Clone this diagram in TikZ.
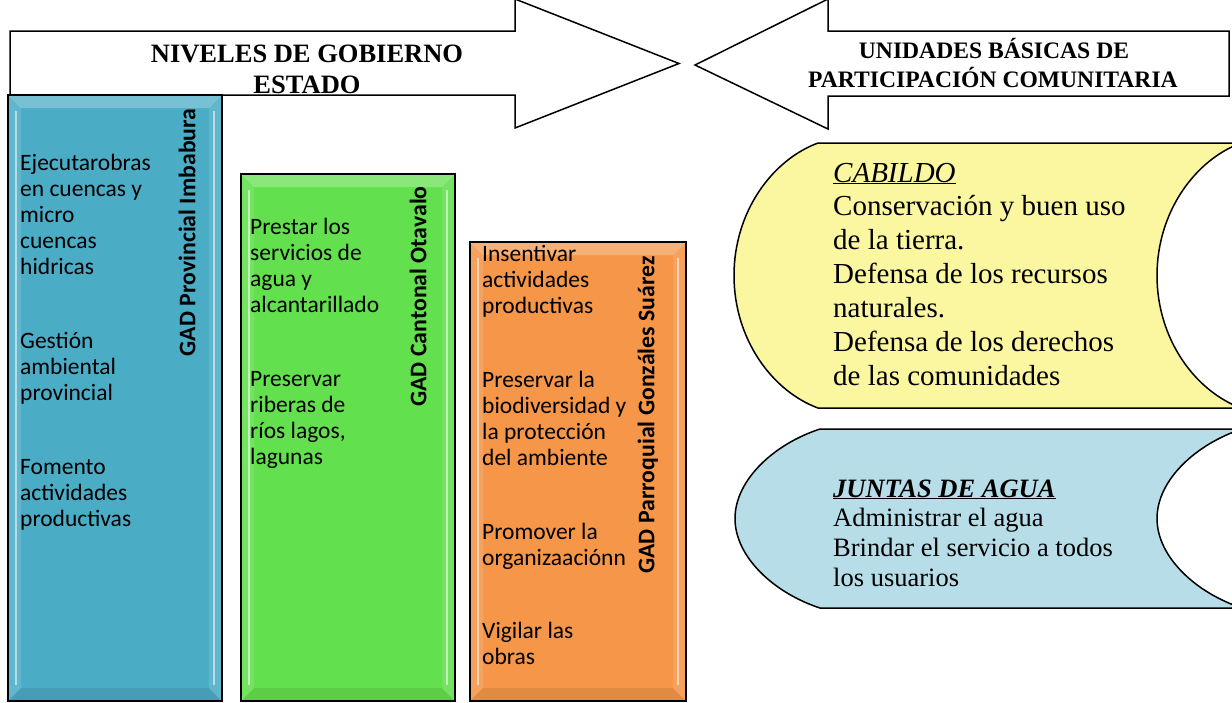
\documentclass[tikz,border=0pt]{standalone}
\usepackage{fontspec}
\setmainfont{Liberation Serif}
\newfontfamily\calib{Carlito}
\definecolor{colblue}{RGB}{75,172,198}
\definecolor{colgreen}{RGB}{99,224,77}
\definecolor{colorange}{RGB}{245,150,72}
\definecolor{cabyellow}{RGB}{251,247,160}
\definecolor{juntblue}{RGB}{183,222,232}
\tikzset{
  bigarrow/.style={draw=black, line width=1.5pt, fill=white, line join=miter},
  hdrL/.style={font=\bfseries\fontsize{26.5}{30}\selectfont, anchor=base, inner sep=0},
  hdrR/.style={font=\bfseries\fontsize{23.6}{28}\selectfont, anchor=base, inner sep=0},
  coltxt/.style={anchor=base west, inner sep=0, font=\calib\fontsize{23.5}{26.2}\selectfont},
  vlabel/.style={rotate=90, inner sep=0, font=\calib\bfseries\fontsize{23.8}{26}\selectfont},
  scrollshape/.style={draw=black, line width=1.5pt},
  cabtxt/.style={anchor=base west, inner sep=0, font=\fontsize{29}{33.9}\selectfont},
  junttxt/.style={anchor=base west, inner sep=0, font=\fontsize{26.5}{29.7}\selectfont},
}
\newcommand\coltext[4]{%
  \node[coltxt] (#1) at (#2,#3) {\begin{tabular}[t]{@{}l@{}}#4\end{tabular}};}
\newcommand\bevcol[5]{%
  \fill[#5] (#1,#2) rectangle (#3,#4);
  \fill[white, opacity=0.25] (#1,#2) -- (#3,#2) -- (#3-13,#2+13) -- (#1+13,#2+13) -- cycle;
  \fill[white, opacity=0.12] (#1,#2) -- (#1+13,#2+13) -- (#1+13,#4-13) -- (#1,#4) -- cycle;
  \fill[white, opacity=0.12] (#3,#2) -- (#3-13,#2+13) -- (#3-13,#4-13) -- (#3,#4) -- cycle;
  \fill[black, opacity=0.08] (#1,#4) -- (#1+13,#4-13) -- (#3-13,#4-13) -- (#3,#4) -- cycle;
  \draw[white, opacity=0.55, line width=2.5pt] (#1+8,#2+16) -- (#1+8,#4-16);
  \draw[white, opacity=0.55, line width=2.5pt] (#3-8,#2+16) -- (#3-8,#4-16);
  \draw[black, line width=1.3pt] (#1,#2) rectangle (#3,#4);}
\begin{document}
\begin{tikzpicture}[x=1pt,y=-1pt]
\useasboundingbox (0,0) rectangle (1232,702);
\clip (0,0) rectangle (1232,702);
\fill[white] (0,0) rectangle (1232,702);

% top arrows
\draw[bigarrow] (10,31) -- (515,31) -- (515,-1) -- (679,63.5) -- (515,128) -- (515,95) -- (10,95) -- cycle;
\draw[bigarrow] (1229,31) -- (828,31) -- (828,-1) -- (695,65) -- (828,129) -- (828,96) -- (1229,96) -- cycle;
\node[hdrL] (niv) at (307,62) {NIVELES DE GOBIERNO};
\node[hdrL] (est) at (307,93) {ESTADO};
\node[hdrR] (uni) at (994,58) {UNIDADES BÁSICAS DE};
\node[hdrR] (par) at (993,87) {PARTICIPACIÓN COMUNITARIA};

% columns
\bevcol{8}{95}{222}{701}{colblue}
\bevcol{241}{174}{455}{701}{colgreen}
\bevcol{470}{242}{686}{701}{colorange}

\node[vlabel] (provincial) at (187,232.5) {GAD Provincial Imbabura};
\node[vlabel] (cantonal) at (418,296.5) {GAD Cantonal Otavalo};
\node[vlabel] (parroquial) at (648,415) {GAD Parroquial Gonzáles Suárez};

\coltext{b1}{20}{170}{Ejecutarobras\\en cuencas y\\micro\\cuencas\\hidricas}
\coltext{b2}{20}{348}{Gestión\\ambiental\\provincial}
\coltext{b3}{20}{474}{Fomento\\actividades\\productivas}
\coltext{g1}{250}{234}{Prestar los\\servicios de\\agua y\\alcantarillado}
\coltext{g2}{250}{386}{Preservar\\riberas de\\ríos lagos,\\lagunas}
\coltext{o1}{482}{261}{Insentivar\\actividades\\productivas}
\coltext{o2}{482}{387}{Preservar la\\biodiversidad y\\la protección\\del ambiente}
\coltext{o3}{482}{539}{Promover la\\organizaaciónn}
\coltext{o4}{482}{638}{Vigilar las\\obras}

% scroll shapes
\draw[scrollshape, fill=cabyellow] (818,143) -- (1241,143)
  .. controls (1195,160) and (1157,212) .. (1157,275.5)
  .. controls (1157,339) and (1195,391) .. (1241,408) -- (818,408)
  .. controls (772,391) and (734,339) .. (734,275.5)
  .. controls (734,212) and (772,160) .. (818,143) -- cycle;
\draw[scrollshape, fill=juntblue] (820,429) -- (1242,429)
  .. controls (1196,444) and (1157,480) .. (1157,518.5)
  .. controls (1157,557) and (1196,593) .. (1242,608) -- (820,608)
  .. controls (774,593) and (735,557) .. (735,518.5)
  .. controls (735,480) and (774,444) .. (820,429) -- cycle;

\node[cabtxt] (cabildo) at (833,182) {\begin{tabular}[t]{@{}l@{}}
  \textit{\underline{CABILDO}}\\Conservación y buen uso\\de la tierra.\\Defensa de los recursos\\naturales.\\Defensa de los derechos\\de las comunidades\end{tabular}};
\node[junttxt] (juntas) at (833,497) {\begin{tabular}[t]{@{}l@{}}
  \textbf{\textit{\underline{JUNTAS DE AGUA}}}\\Administrar el agua\\Brindar el servicio a todos\\los usuarios\end{tabular}};
\end{tikzpicture}
\end{document}
